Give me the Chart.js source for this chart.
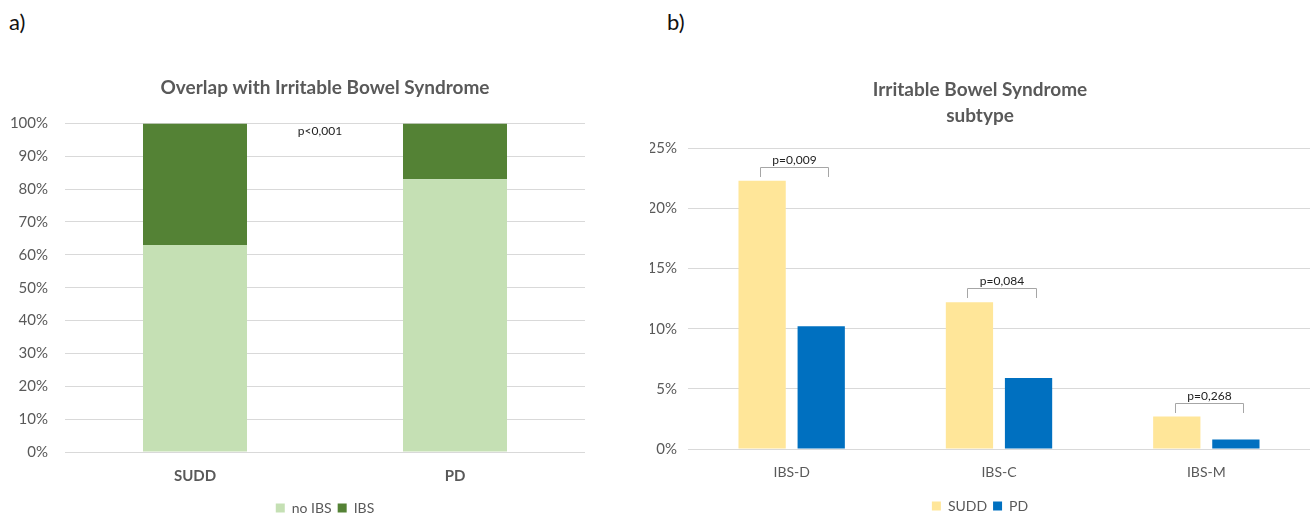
<!DOCTYPE html>
<html>
<head>
<meta charset="utf-8">
<script src="https://cdn.jsdelivr.net/npm/chart.js@4.4.1/dist/chart.umd.min.js"></script>
<style>
    body { margin: 0; background: #fff; width: 1311px; height: 515px; overflow: hidden; position: relative; font-family: Lato, sans-serif; }
    .panel-label { position: absolute; font-size: 22px; color: #111; }
    .wrap { position: absolute; top: 0; }
</style>
</head>
<body>
<div class="panel-label" style="left:9px; top:8px;">a)</div>
<div class="panel-label" style="left:667px; top:8px;">b)</div>
<div class="wrap" style="left:0; width:620px; height:515px;"><canvas id="chart-a" width="620" height="515"></canvas></div>
<div class="wrap" style="left:640px; width:671px; height:515px;"><canvas id="chart-b" width="671" height="515"></canvas></div>
<script>
// Panel a) - overlap with IBS (stacked 100%)
const overlapGroups = ['SUDD', 'PD'];
const noIbsShare = [63, 83];
const ibsShare = [37, 17];
const overlapTicks = [0, 10, 20, 30, 40, 50, 60, 70, 80, 90, 100];
const overlapNote = 'p<0,001';

// Panel b) - IBS subtype
const subtypes = ['IBS-D', 'IBS-C', 'IBS-M'];
const subtypeSudd = [22.3, 12.2, 2.7];
const subtypePd = [10.2, 5.9, 0.8];
const subtypeTicks = [0, 5, 10, 15, 20, 25];
const subtypePValues = ['p=0,009', 'p=0,084', 'p=0,268'];

const GREY = '#595959';
const GRID = '#d9d9d9';
const FONT = 'Lato, sans-serif';

// Text annotation for panel a
const overlapNotePlugin = {
    id: 'overlapNote',
    afterDatasetsDraw(chart) {
        const { ctx, scales } = chart;
        const x = (scales.x.getPixelForValue(0) + scales.x.getPixelForValue(1)) / 2 - 5;
        const y = scales.y.getPixelForValue(100) + 8;
        ctx.save();
        ctx.font = '12px ' + FONT;
        ctx.fillStyle = '#222';
        ctx.textAlign = 'center';
        ctx.textBaseline = 'middle';
        ctx.fillText(overlapNote, x, y);
        ctx.restore();
    }
};

// Brackets with p values for panel b
const bracketPlugin = {
    id: 'pBrackets',
    afterDatasetsDraw(chart) {
        const { ctx } = chart;
        const a = chart.getDatasetMeta(0).data;
        const b = chart.getDatasetMeta(1).data;
        ctx.save();
        ctx.strokeStyle = '#a6a6a6';
        ctx.lineWidth = 1;
        ctx.font = '12px ' + FONT;
        ctx.fillStyle = '#222';
        ctx.textAlign = 'center';
        ctx.textBaseline = 'bottom';
        subtypePValues.forEach((label, i) => {
            const left = Math.round(a[i].x - 2) + 0.5;
            const right = Math.round(b[i].x + 7) + 0.5;
            const bottom = Math.round(Math.min(a[i].y, b[i].y) - 4);
            const top = bottom - 10 + 0.5;
            ctx.beginPath();
            ctx.moveTo(left, bottom);
            ctx.lineTo(left, top);
            ctx.lineTo(right, top);
            ctx.lineTo(right, bottom);
            ctx.stroke();
            ctx.fillText(label, (left + right) / 2, top - 1);
        });
        ctx.restore();
    }
};

new Chart(document.getElementById('chart-a'), {
    type: 'bar',
    data: {
        labels: overlapGroups,
        datasets: [
            { label: 'no IBS', data: noIbsShare, backgroundColor: '#c5e0b4' },
            { label: 'IBS', data: ibsShare, backgroundColor: '#548235' }
        ]
    },
    options: {
        responsive: false,
        animation: false,
        categoryPercentage: 1,
        barPercentage: 0.4,
        layout: { padding: { top: 76, right: 35, bottom: -10 } },
        plugins: {
            title: {
                display: true,
                fullSize: false,
                text: 'Overlap with Irritable Bowel Syndrome',
                color: GREY,
                font: { family: FONT, size: 19, weight: 'bold' },
                padding: { top: 0, bottom: 24.6 }
            },
            legend: {
                position: 'bottom',
                fullSize: false,
                labels: { color: GREY, font: { family: FONT, size: 14 }, boxWidth: 9, boxHeight: 9, padding: 6 }
            },
            tooltip: { enabled: false }
        },
        scales: {
            x: {
                stacked: true,
                grid: { display: false },
                border: { display: false },
                ticks: { color: GREY, font: { family: FONT, size: 15, weight: 'bold' }, padding: 7 },
                afterFit: s => { s.height = 43; }
            },
            y: {
                stacked: true,
                min: 0,
                max: 100,
                afterBuildTicks: s => { s.ticks = overlapTicks.map(v => ({ value: v })); },
                afterFit: s => { s.width = 65; },
                grid: { color: GRID, drawTicks: false },
                border: { display: false },
                ticks: { color: GREY, font: { family: FONT, size: 15 }, padding: 17, callback: v => v + '%' }
            }
        }
    },
    plugins: [overlapNotePlugin]
});

new Chart(document.getElementById('chart-b'), {
    type: 'bar',
    data: {
        labels: subtypes,
        datasets: [
            { label: 'SUDD', data: subtypeSudd, backgroundColor: '#ffe699' },
            { label: 'PD', data: subtypePd, backgroundColor: '#0070c0' }
        ]
    },
    options: {
        responsive: false,
        animation: false,
        categoryPercentage: 0.57,
        barPercentage: 0.8,
        layout: { padding: { top: 77, left: 10, right: 1, bottom: -8 } },
        plugins: {
            title: {
                display: true,
                text: ['Irritable Bowel Syndrome', 'subtype'],
                color: GREY,
                font: { family: FONT, size: 19, weight: 'bold', lineHeight: 1.35 },
                padding: { top: 0, bottom: 20 }
            },
            legend: {
                position: 'bottom',
                labels: { color: GREY, font: { family: FONT, size: 14 }, boxWidth: 9, boxHeight: 9, padding: 6 }
            },
            tooltip: { enabled: false }
        },
        scales: {
            x: {
                grid: { display: false },
                border: { display: false },
                ticks: { color: GREY, font: { family: FONT, size: 14 }, padding: 7 },
                afterFit: s => { s.height = 44; }
            },
            y: {
                min: 0,
                max: 25,
                afterBuildTicks: s => { s.ticks = subtypeTicks.map(v => ({ value: v })); },
                afterFit: s => { s.width = 38; },
                grid: { color: GRID, drawTicks: false },
                border: { display: false },
                ticks: { color: GREY, font: { family: FONT, size: 15 }, padding: 11, callback: v => v + '%' }
            }
        }
    },
    plugins: [bracketPlugin]
});
</script>
</body>
</html>
